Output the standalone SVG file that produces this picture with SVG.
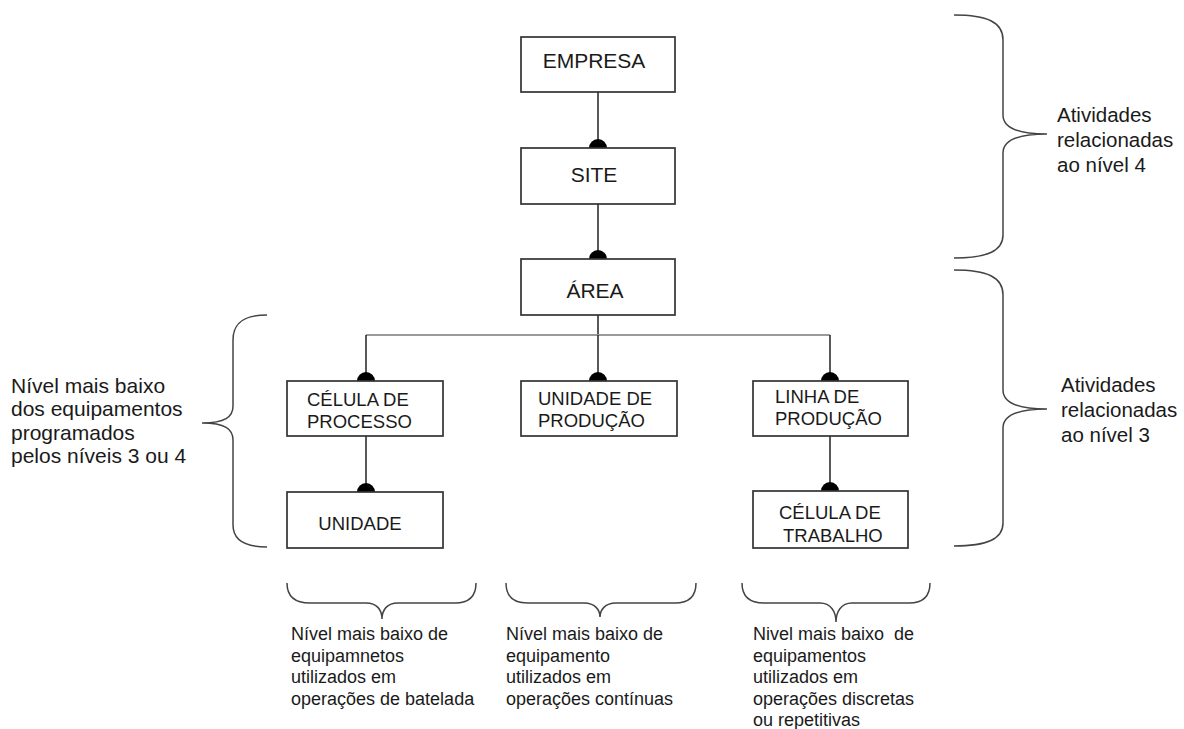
<svg xmlns="http://www.w3.org/2000/svg" width="1184" height="729" viewBox="0 0 1184 729">
  <style>
    text { font-family: "Liberation Sans", Arial, sans-serif; fill: #1a1a1a; }
    .box { fill: #ffffff; stroke: #333333; stroke-width: 1.7; }
    .top { font-size: 21px; text-anchor: middle; }
    .low { font-size: 18.5px; }
    .side { font-size: 20.5px; }
    .left { font-size: 21px; }
    .note { font-size: 18px; }
    .link { stroke: #222222; stroke-width: 1.5; fill: none; }
    .bus { stroke: #9a9a9a; stroke-width: 2; fill: none; }
    .cap { fill: #000000; }
    .brace { stroke: #444444; stroke-width: 1.5; fill: none; }
  </style>
  <rect width="1184" height="729" fill="#ffffff"/>

  <!-- connectors: plain links ending in a half-disc on the child box -->
  <g id="connectors">
    <line class="link" x1="598" y1="92" x2="598" y2="148"/>
    <path class="cap" d="M589,148 A9,9 0 0 1 607,148 Z"/>
    <line class="link" x1="598" y1="204" x2="598" y2="259"/>
    <path class="cap" d="M589,259 A9,9 0 0 1 607,259 Z"/>
    <line class="link" x1="598" y1="315" x2="598" y2="335"/>
    <line class="bus" x1="366" y1="335" x2="830" y2="335"/>
    <line class="link" x1="366" y1="335" x2="366" y2="381"/>
    <line class="link" x1="598" y1="335" x2="598" y2="381"/>
    <line class="link" x1="830" y1="335" x2="830" y2="381"/>
    <path class="cap" d="M357,381 A9,9 0 0 1 375,381 Z"/>
    <path class="cap" d="M589,381 A9,9 0 0 1 607,381 Z"/>
    <path class="cap" d="M821,381 A9,9 0 0 1 839,381 Z"/>
    <line class="link" x1="366" y1="436" x2="366" y2="492"/>
    <path class="cap" d="M357,492 A9,9 0 0 1 375,492 Z"/>
    <line class="link" x1="830" y1="436" x2="830" y2="491"/>
    <path class="cap" d="M821,491 A9,9 0 0 1 839,491 Z"/>
  </g>

  <!-- nodes -->
  <g id="empresa">
    <rect class="box" x="521" y="37" width="154" height="55"/>
    <text class="top" x="594" y="68">EMPRESA</text>
  </g>
  <g id="site">
    <rect class="box" x="521" y="148" width="154" height="56"/>
    <text class="top" x="594" y="182">SITE</text>
  </g>
  <g id="area">
    <rect class="box" x="521" y="259" width="154" height="56"/>
    <text class="top" x="595" y="298">ÁREA</text>
  </g>
  <g id="celula-processo">
    <rect class="box" x="287" y="381" width="156" height="55"/>
    <text class="low" x="307" y="406">CÉLULA DE</text>
    <text class="low" x="307" y="428">PROCESSO</text>
  </g>
  <g id="unidade">
    <rect class="box" x="287" y="492" width="156" height="56"/>
    <text class="low" x="360" y="530" text-anchor="middle">UNIDADE</text>
  </g>
  <g id="unidade-producao">
    <rect class="box" x="521" y="381" width="156" height="55"/>
    <text class="low" x="538" y="405">UNIDADE DE</text>
    <text class="low" x="538" y="427">PRODUÇÃO</text>
  </g>
  <g id="linha-producao">
    <rect class="box" x="753" y="381" width="155" height="55"/>
    <text class="low" x="775" y="403">LINHA DE</text>
    <text class="low" x="775" y="425">PRODUÇÃO</text>
  </g>
  <g id="celula-trabalho">
    <rect class="box" x="753" y="491" width="155" height="57"/>
    <text class="low" x="779" y="519">CÉLULA DE</text>
    <text class="low" x="783" y="542">TRABALHO</text>
  </g>

  <!-- braces -->
  <g id="braces">
    <path class="brace" d="M954,15 C987,15 1003,22 1003,40 L1003,115 C1003,127 1015,134 1047,134 C1015,134 1003,141 1003,153 L1003,235 C1003,251 987,258 954,258"/>
    <path class="brace" d="M954,270 C987,270 1003,277 1003,295 L1003,390 C1003,402 1015,409 1047,409 C1015,409 1003,416 1003,428 L1003,523 C1003,539 987,546 954,546"/>
    <path class="brace" d="M267,315 C245,315 233,322 233,340 L233,406 C233,417 225,423 202,423 C225,423 233,429 233,440 L233,525 C233,540 245,547 267,547"/>
    <path class="brace" d="M287,583 C287,596 294,603 310,603 L366,603 C377,603 382,610 382,619 C382,610 387,603 398,603 L455,603 C470,603 476,596 476,583"/>
    <path class="brace" d="M506,583 C506,596 513,603 528,603 L584,603 C595,603 600,610 600,617 C600,610 605,603 616,603 L675,603 C690,603 696,596 696,583"/>
    <path class="brace" d="M742,583 C742,596 749,603 764,603 L820,603 C831,603 836,612 836,622 C836,612 841,603 852,603 L909,603 C924,603 930,596 930,583"/>
  </g>

  <!-- annotations -->
  <g id="label-nivel4">
    <text class="side" x="1057" y="122">Atividades</text>
    <text class="side" x="1057" y="147">relacionadas</text>
    <text class="side" x="1057" y="172">ao nível 4</text>
  </g>
  <g id="label-nivel3">
    <text class="side" x="1061" y="392">Atividades</text>
    <text class="side" x="1061" y="417">relacionadas</text>
    <text class="side" x="1061" y="442">ao nível 3</text>
  </g>
  <g id="label-esquerda">
    <text class="left" x="11" y="393">Nível mais baixo</text>
    <text class="left" x="11" y="416">dos equipamentos</text>
    <text class="left" x="11" y="440">programados</text>
    <text class="left" x="11" y="463">pelos níveis 3 ou 4</text>
  </g>
  <g id="label-batelada">
    <text class="note" x="291" y="640">Nível mais baixo de</text>
    <text class="note" x="291" y="662">equipamnetos</text>
    <text class="note" x="291" y="683">utilizados em</text>
    <text class="note" x="291" y="705">operações de batelada</text>
  </g>
  <g id="label-continuas">
    <text class="note" x="506" y="640">Nível mais baixo de</text>
    <text class="note" x="506" y="662">equipamento</text>
    <text class="note" x="506" y="683">utilizados em</text>
    <text class="note" x="506" y="705">operações contínuas</text>
  </g>
  <g id="label-discretas">
    <text class="note" x="753" y="640" xml:space="preserve">Nivel mais baixo  de</text>
    <text class="note" x="753" y="662">equipamentos</text>
    <text class="note" x="753" y="683">utilizados em</text>
    <text class="note" x="753" y="705">operações discretas</text>
    <text class="note" x="753" y="726">ou repetitivas</text>
  </g>
</svg>
